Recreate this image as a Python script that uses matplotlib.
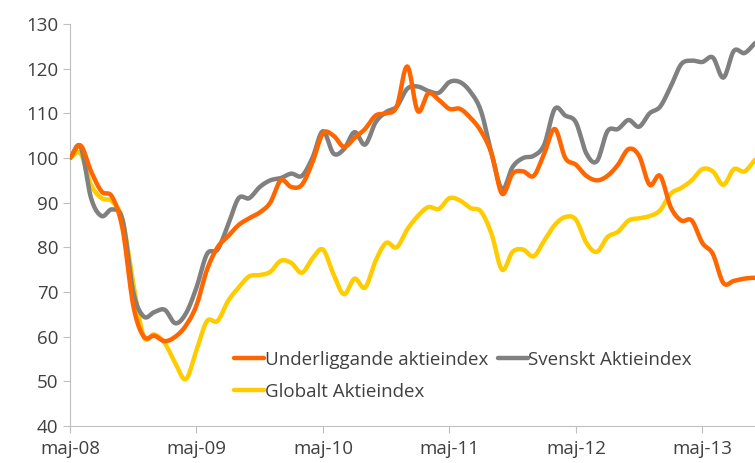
import numpy as np
import matplotlib.pyplot as plt

plt.rcParams['font.family'] = ['Open Sans', 'DejaVu Sans']

# month index 0 = maj-08
underliggande = [100, 102.8, 97, 92.5, 91.3, 84, 67, 60, 60.2, 59, 60, 62.5,
                 67, 75, 80, 82.5, 85, 86.5, 87.8, 90, 95, 93.5, 94, 99,
                 105.5, 105, 102.5, 104.5, 106.5, 109.5, 110, 111.5, 120.5, 110.5, 114.5, 113,
                 111, 111, 109, 106, 101, 92, 96.5, 97, 96, 101, 106.5, 100,
                 98.5, 96, 95, 96, 98.5, 102, 100.5, 94, 96, 89, 86, 86,
                 81, 78.5, 72, 72.5, 73, 73.2]
svenskt = [100, 102.5, 91, 87, 88.5, 86, 70, 64.5, 65.5, 66, 63, 65.2,
           71, 78.5, 79.5, 85, 91, 91, 93.5, 95, 95.5, 96.5, 96, 100,
           106, 101, 102, 105.8, 103, 108, 110.3, 111.5, 115.5, 116, 115, 114.6,
           117, 117, 114.8, 110.5, 101, 93, 98, 100, 100.5, 103, 111, 109.5,
           108, 101, 99.3, 106, 106.5, 108.5, 107, 110, 111.5, 116, 121, 121.8,
           121.5, 122.5, 118, 124, 123.5, 125.7]
globalt = [100, 101, 94, 91, 90.3, 86, 72, 60, 60.5, 58.5, 54, 50.5,
           57, 63.5, 63.5, 68, 71, 73.5, 73.8, 74.5, 77, 76.5, 74.3, 77.5,
           79.5, 74, 69.5, 73, 71, 77, 81, 80, 84, 87, 89, 88.6,
           91, 90.5, 88.8, 88, 83, 75, 79, 79.5, 78, 81.5, 85, 86.8,
           86.2, 81, 79, 82.3, 83.5, 86, 86.5, 87, 88.3, 92, 93.3, 95,
           97.5, 97, 94, 97.5, 97, 99.6]
tick_labels = ['maj-08', 'maj-09', 'maj-10', 'maj-11', 'maj-12', 'maj-13']


def smooth(y, n=12):
    # Catmull-Rom curve through the points (like Excel's smoothed line)
    y = np.asarray(y, float)
    x = np.arange(len(y), dtype=float)
    p = np.concatenate([[2 * y[0] - y[1]], y, [2 * y[-1] - y[-2]]])
    xs, ys = [], []
    t = np.linspace(0, 1, n, endpoint=False)
    for i in range(len(y) - 1):
        p0, p1, p2, p3 = p[i], p[i + 1], p[i + 2], p[i + 3]
        seg = 0.5 * (2 * p1 + (-p0 + p2) * t + (2 * p0 - 5 * p1 + 4 * p2 - p3) * t ** 2
                     + (-p0 + 3 * p1 - 3 * p2 + p3) * t ** 3)
        xs.append(x[i] + t)
        ys.append(seg)
    xs.append([x[-1]])
    ys.append([y[-1]])
    return np.concatenate(xs), np.concatenate(ys)


fig = plt.figure(figsize=(7.55, 4.63), dpi=100)
ax = fig.add_axes([70 / 755, 37 / 463, 685 / 755, 402 / 463])

for data, col, lab in [(underliggande, '#ff6600', 'Underliggande aktieindex'),
                       (globalt, '#ffcc00', 'Globalt Aktieindex'),
                       (svenskt, '#808080', 'Svenskt Aktieindex')]:
    xs, ys = smooth(data)
    ax.plot(xs, ys, color=col, lw=3.2, label=lab, solid_capstyle='round')

ax.lines[0].set_zorder(3)

ax.set_xlim(0, 65)
ax.set_ylim(40, 130)
ax.set_yticks(range(40, 131, 10))
ax.set_xticks(range(0, 61, 12))
ax.set_xticklabels(tick_labels)
for s in ['top', 'right']:
    ax.spines[s].set_visible(False)
for s in ['left', 'bottom']:
    ax.spines[s].set_color('#bfbfbf')
ax.tick_params(colors='#bfbfbf', labelcolor='#404040', labelsize=13.5, length=5)
ax.tick_params(axis='x', pad=5)

ax.legend(ncol=2, frameon=False, fontsize=13.5, handlelength=1.6, handletextpad=0.05,
          columnspacing=0.5, labelspacing=0.75, loc='upper left',
          bbox_to_anchor=(217 / 755, 1 - 334 / 463), bbox_transform=fig.transFigure,
          labelcolor='#404040')

fig.savefig('out.png', dpi=100)
